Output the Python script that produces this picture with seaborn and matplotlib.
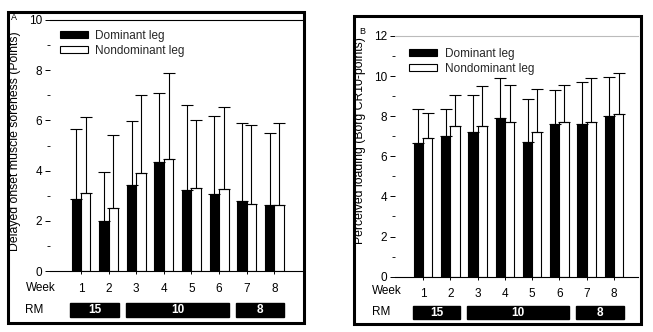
import matplotlib
matplotlib.use("Agg")
import matplotlib.pyplot as plt
import seaborn as sns
import pandas as pd
from matplotlib.patches import Rectangle
from matplotlib.transforms import blended_transform_factory
from matplotlib.ticker import MultipleLocator

# ---------------- data ----------------
weeks = ["1", "2", "3", "4", "5", "6", "7", "8"]
legs = ["Dominant leg", "Nondominant leg"]

doms_dominant_mean = [2.88, 2.00, 3.41, 4.36, 3.23, 3.06, 2.77, 2.61]
doms_dominant_sd = [2.77, 1.95, 2.55, 2.74, 3.38, 3.11, 3.12, 2.88]
doms_nondominant_mean = [3.12, 2.52, 3.90, 4.46, 3.31, 3.27, 2.67, 2.61]
doms_nondominant_sd = [3.03, 2.89, 3.13, 3.42, 2.69, 3.26, 3.14, 3.28]

load_dominant_mean = [6.66, 7.01, 7.21, 7.91, 6.71, 7.61, 7.61, 8.01]
load_dominant_sd = [1.72, 1.37, 1.86, 1.98, 2.16, 1.68, 2.11, 1.96]
load_nondominant_mean = [6.91, 7.50, 7.50, 7.69, 7.20, 7.69, 7.69, 8.09]
load_nondominant_sd = [1.27, 1.57, 2.02, 1.88, 2.17, 1.88, 2.23, 2.05]

rm_labels = ["15", "10", "8"]
rm_first_week = ["1", "3", "7"]
rm_last_week = ["2", "6", "8"]

panel_letters = ["A", "B"]
ylabels = ["Delayed onset muscle soreness (Points)", "Perceived loading (Borg CR10-points)"]
ymax = [10, 12]

# ---------------- style ----------------
sns.set_theme(style="ticks")
plt.rcParams["font.family"] = ["Liberation Sans", "DejaVu Sans"]
FS = 8.5

W, H = 653, 332
fig = plt.figure(figsize=(W / 100, H / 100), dpi=100)


def fx(x):
    return x / W


def fy(y):
    return 1 - y / H


def draw_panel(ax_px, frame_px, means, sds, top, ylabel, ylab_px, letter, letter_px,
               week_px, rm_px, box_y, legend_anchor, xlim, topcolor):
    l, t, r, b = ax_px
    ax = fig.add_axes([fx(l), fy(b), (r - l) / W, (b - t) / H])
    df = pd.DataFrame({
        "week": weeks * 2,
        "leg": [legs[0]] * len(weeks) + [legs[1]] * len(weeks),
        "value": list(means[0]) + list(means[1]),
    })
    sns.barplot(data=df, x="week", y="value", hue="leg", order=weeks, hue_order=legs,
                palette={legs[0]: "black", legs[1]: "white"}, edgecolor="black",
                linewidth=0.8, width=0.68, gap=0, errorbar=None, legend=False, ax=ax,
                zorder=2)
    for cont, sd in zip(ax.containers, sds):
        xs = [bar.get_x() + bar.get_width() / 2 for bar in cont]
        hs = [bar.get_height() for bar in cont]
        ax.errorbar(xs, hs, yerr=[[0] * len(sd), sd], fmt="none", ecolor="black",
                    elinewidth=0.8, capsize=4, capthick=0.8, zorder=3)
    ax.set_ylim(0, top)
    ax.set_xlim(*xlim)
    ax.set_xlabel("")
    ax.set_ylabel("")
    ax.yaxis.set_major_locator(MultipleLocator(2))
    ax.yaxis.set_minor_locator(MultipleLocator(1))
    ax.tick_params(axis="y", which="major", direction="out", length=3.5, width=0.7,
                   labelsize=FS, pad=2, colors="black")
    ax.tick_params(axis="y", which="minor", direction="out", length=2, width=0.6,
                   colors="black")
    ax.tick_params(axis="x", direction="out", length=2.5, width=0.7, labelsize=FS,
                   pad=6, colors="black")
    ax.spines["left"].set_visible(False)
    ax.spines["right"].set_visible(False)
    ax.spines["top"].set_visible(True)
    ax.spines["top"].set_color(topcolor)
    ax.spines["top"].set_linewidth(0.8)
    ax.spines["bottom"].set_color("black")
    ax.spines["bottom"].set_linewidth(0.8)
    ax.set_facecolor("white")

    # legend
    handles = [Rectangle((0, 0), 1, 1, facecolor="black", edgecolor="black", lw=0.8),
               Rectangle((0, 0), 1, 1, facecolor="white", edgecolor="black", lw=0.8)]
    ax.legend(handles, legs, loc="upper left", bbox_to_anchor=legend_anchor,
              frameon=False, fontsize=FS, handlelength=2.4, handleheight=0.55,
              handletextpad=0.6, labelspacing=0.25, borderpad=0, borderaxespad=0)

    # y label and texts
    fig.text(fx(ylab_px[0]), fy(ylab_px[1]), ylabel, rotation=90, ha="center",
             va="center", fontsize=8.8, color="black")
    fig.text(fx(letter_px[0]), fy(letter_px[1]), letter, ha="left", va="center",
             fontsize=6.5, color="black")
    fig.text(fx(week_px[0]), fy(week_px[1]), "Week", ha="left", va="center",
             fontsize=FS, color="black")
    fig.text(fx(rm_px[0]), fy(rm_px[1]), "RM", ha="left", va="center",
             fontsize=FS, color="black")

    # RM boxes
    tr = blended_transform_factory(ax.transData, fig.transFigure)
    for lab, w0, w1 in zip(rm_labels, rm_first_week, rm_last_week):
        x0 = weeks.index(w0) - 0.38
        x1 = weeks.index(w1) + 0.36
        y0, y1 = fy(box_y[1]), fy(box_y[0])
        ax.add_artist(Rectangle((x0, y0), x1 - x0, y1 - y0, transform=tr,
                                facecolor="black", edgecolor="black", clip_on=False))
        ax.text((x0 + x1) / 2, (y0 + y1) / 2, lab, transform=tr, ha="center",
                va="center", color="white", fontsize=FS, fontweight="bold",
                clip_on=False)

    # frame
    fl, ft, fr, fb = frame_px
    fig.add_artist(Rectangle((fx(fl), fy(fb)), (fr - fl) / W, (fb - ft) / H,
                             transform=fig.transFigure, fill=False, lw=2.2,
                             edgecolor="black"))
    return ax


draw_panel((50, 20, 302, 271), (7.5, 11.5, 304, 322.5),
           (doms_dominant_mean, doms_nondominant_mean),
           (doms_dominant_sd, doms_nondominant_sd), ymax[0], ylabels[0],
           (15, 141), panel_letters[0], (11, 18), (26, 288), (25, 310), (303, 317),
           (0.04, 0.96), (-1.12, 8.0), "black")

draw_panel((395, 36, 638, 276.6), (353.5, 16, 641, 323.5),
           (load_dominant_mean, load_nondominant_mean),
           (load_dominant_sd, load_nondominant_sd), ymax[1], ylabels[1],
           (360, 141), panel_letters[1], (359, 31), (372, 291), (372, 312), (306, 319),
           (0.058, 0.95), (-1.03, 7.88), "#bbbbbb")

fig.savefig("out.png", dpi=100, facecolor="white")
